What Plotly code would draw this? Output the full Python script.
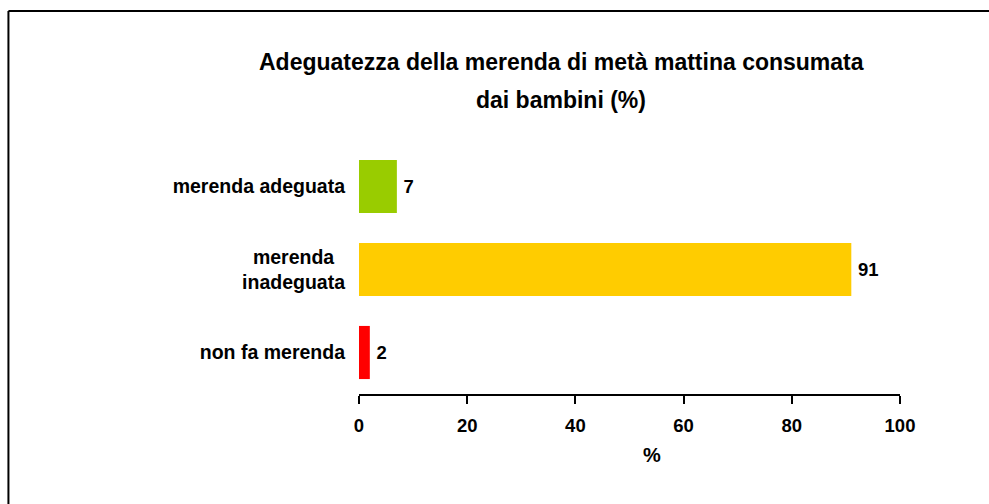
import plotly.graph_objects as go

categories = ["merenda adeguata", "merenda\u00a0\u00a0<br>inadeguata", "non fa merenda"]
values = [7, 91, 2]
colors = ["#99CC00", "#FFCC00", "#FF0000"]
x_ticks = [0, 20, 40, 60, 80, 100]
title_lines = ["Adeguatezza della merenda di metà mattina consumata", "dai bambini (%)"]
x_title = "%"

FONT = "Liberation Sans, Arial, sans-serif"

fig = go.Figure()
fig.add_trace(go.Bar(
    y=categories,
    x=values,
    orientation="h",
    marker=dict(color=colors, line=dict(width=0)),
    text=["\u2009" + str(v) for v in values],
    textposition="outside",
    textfont=dict(family=FONT, size=18.5, color="#000000", weight="bold"),
    cliponaxis=False,
    width=0.64,
))

fig.update_layout(
    width=989,
    height=504,
    margin=dict(l=359, r=89, t=145, b=110),
    paper_bgcolor="white",
    plot_bgcolor="white",
    showlegend=False,
    font=dict(family=FONT, color="#000000"),
    xaxis=dict(
        range=[0, 100],
        tickvals=x_ticks,
        ticktext=[str(t) for t in x_ticks],
        showgrid=False,
        zeroline=False,
        showline=True,
        linecolor="#000000",
        linewidth=2,
        ticks="outside",
        ticklen=8,
        tickwidth=2,
        tickcolor="#000000",
        ticklabelstandoff=6,
        tickfont=dict(family=FONT, size=18.5, color="#000000", weight="bold"),
        fixedrange=True,
    ),
    yaxis=dict(
        range=[2.5, -0.5],
        showgrid=False,
        zeroline=False,
        showline=False,
        ticks="",
        ticklabelstandoff=13,
        tickfont=dict(family=FONT, size=19.5, color="#000000", weight="bold"),
        fixedrange=True,
    ),
    annotations=[
        dict(text=title_lines[0], xref="paper", yref="paper", x=0.3734, y=1.333,
             xanchor="center", yanchor="middle", showarrow=False,
             font=dict(family=FONT, size=23, color="#000000", weight="bold")),
        dict(text=title_lines[1], xref="paper", yref="paper", x=0.3734, y=1.181,
             xanchor="center", yanchor="middle", showarrow=False,
             font=dict(family=FONT, size=23, color="#000000", weight="bold")),
        dict(text=x_title, xref="paper", yref="paper", x=0.5416, y=-0.245,
             xanchor="center", yanchor="middle", showarrow=False,
             font=dict(family=FONT, size=20, color="#000000", weight="bold")),
    ],
    shapes=[
        dict(type="line", xref="paper", yref="paper", x0=-0.648, x1=1.4, y0=1.538, y1=1.538,
             line=dict(color="#000000", width=2), layer="below"),
        dict(type="line", xref="paper", yref="paper", x0=-0.648, x1=-0.648, y0=-0.8, y1=1.538,
             line=dict(color="#000000", width=2), layer="below"),
    ],
)

fig.write_html(
    "out.html",
    config={"displayModeBar": False},
    post_script=(
        "document.body.style.margin='0';"
        "document.body.style.overflow='hidden';"
        "document.documentElement.style.overflow='hidden';"
        "document.body.style.background='white';"
    ),
)
